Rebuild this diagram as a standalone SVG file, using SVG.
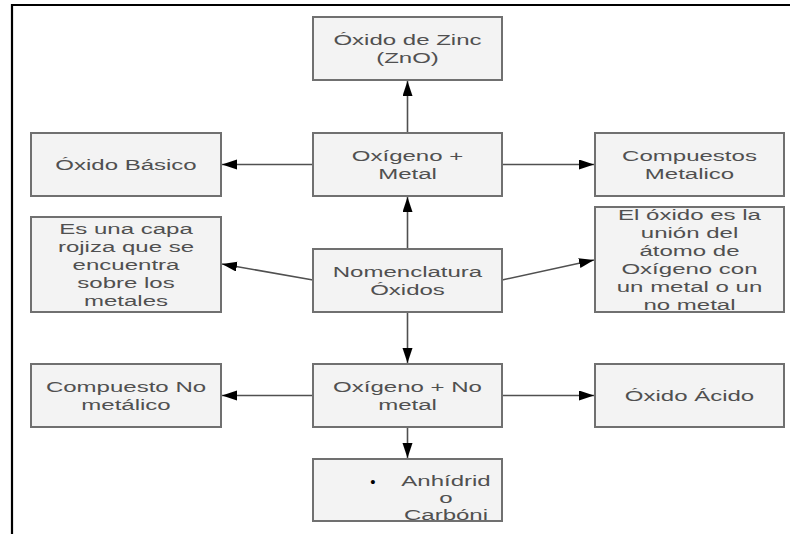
<svg xmlns="http://www.w3.org/2000/svg" width="790" height="534" viewBox="0 0 790 534">
  <style>
    .box { fill: #f3f3f3; stroke: #707070; stroke-width: 2; }
    .lbl { font-family: "Liberation Sans", Arial, sans-serif; font-size: 15.5px; fill: #505050; text-anchor: middle; }
    .edge { fill: none; stroke: #505050; stroke-width: 1.6; marker-end: url(#head); }
    .frame { fill: none; stroke: #000; stroke-width: 2.2; }
  </style>
  <defs>
    <marker id="head" markerUnits="userSpaceOnUse" markerWidth="16" markerHeight="12" refX="15" refY="5" orient="auto">
      <path d="M0,0 L15,5 L0,10 z" fill="#000"/>
    </marker>
    <clipPath id="clipUnion"><rect x="595" y="207" width="189" height="105"/></clipPath>
    <clipPath id="clipAnh"><rect x="313" y="459" width="189" height="62"/></clipPath>
  </defs>

  <rect width="790" height="534" fill="#fff"/>
  <!-- page frame -->
  <path class="frame" d="M12,534 L12,5 L790,5"/>

  <!-- connectors -->
  <g id="connectors">
    <path class="edge" d="M407.5,133 L407.5,81"/>
    <path class="edge" d="M313,164.5 L222,164.5"/>
    <path class="edge" d="M502,164.5 L594,164.5"/>
    <path class="edge" d="M407.5,249 L407.5,197"/>
    <path class="edge" d="M313,280 L222,264"/>
    <path class="edge" d="M502,280 L594,260"/>
    <path class="edge" d="M407.5,312 L407.5,363"/>
    <path class="edge" d="M313,395.5 L222,395.5"/>
    <path class="edge" d="M502,395.5 L594,395.5"/>
    <path class="edge" d="M407.5,427 L407.5,458"/>
  </g>

  <g id="zinc">
    <rect class="box" x="313" y="17" width="189" height="63"/>
    <g transform="translate(407.5,0) scale(1.55,1)">
      <text class="lbl" x="0" y="45">Óxido de Zinc</text>
      <text class="lbl" x="0" y="63">(ZnO)</text>
    </g>
  </g>

  <g id="oxido-basico">
    <rect class="box" x="31" y="133" width="190" height="63"/>
    <g transform="translate(126,0) scale(1.55,1)">
      <text class="lbl" x="0" y="170">Óxido Básico</text>
    </g>
  </g>

  <g id="oxigeno-metal">
    <rect class="box" x="313" y="133" width="189" height="63"/>
    <g transform="translate(407.5,0) scale(1.55,1)">
      <text class="lbl" x="0" y="161">Oxígeno +</text>
      <text class="lbl" x="0" y="179">Metal</text>
    </g>
  </g>

  <g id="compuestos-metalico">
    <rect class="box" x="595" y="133" width="189" height="63"/>
    <g transform="translate(689.5,0) scale(1.55,1)">
      <text class="lbl" x="0" y="161">Compuestos</text>
      <text class="lbl" x="0" y="179">Metalico</text>
    </g>
  </g>

  <g id="capa-rojiza">
    <rect class="box" x="31" y="217" width="190" height="95"/>
    <g transform="translate(126,0) scale(1.55,1)">
      <text class="lbl" x="0" y="234">Es una capa</text>
      <text class="lbl" x="0" y="252">rojiza que se</text>
      <text class="lbl" x="0" y="270">encuentra</text>
      <text class="lbl" x="0" y="288">sobre los</text>
      <text class="lbl" x="0" y="306">metales</text>
    </g>
  </g>

  <g id="nomenclatura">
    <rect class="box" x="313" y="249" width="189" height="63"/>
    <g transform="translate(407.5,0) scale(1.55,1)">
      <text class="lbl" x="0" y="277">Nomenclatura</text>
      <text class="lbl" x="0" y="295">Óxidos</text>
    </g>
  </g>

  <g id="definicion">
    <rect class="box" x="595" y="207" width="189" height="105"/>
    <g clip-path="url(#clipUnion)">
      <g transform="translate(689.5,0) scale(1.55,1)">
        <text class="lbl" x="0" y="220">El óxido es la</text>
        <text class="lbl" x="0" y="238">unión del</text>
        <text class="lbl" x="0" y="256">átomo de</text>
        <text class="lbl" x="0" y="274">Oxígeno con</text>
        <text class="lbl" x="0" y="292">un metal o un</text>
        <text class="lbl" x="0" y="310">no metal</text>
      </g>
    </g>
    <rect x="595" y="207" width="189" height="105" fill="none" stroke="#707070" stroke-width="2"/>
  </g>

  <g id="compuesto-no-metalico">
    <rect class="box" x="31" y="364" width="190" height="63"/>
    <g transform="translate(126,0) scale(1.55,1)">
      <text class="lbl" x="0" y="392">Compuesto No</text>
      <text class="lbl" x="0" y="410">metálico</text>
    </g>
  </g>

  <g id="oxigeno-no-metal">
    <rect class="box" x="313" y="364" width="189" height="63"/>
    <g transform="translate(407.5,0) scale(1.55,1)">
      <text class="lbl" x="0" y="392">Oxígeno + No</text>
      <text class="lbl" x="0" y="410">metal</text>
    </g>
  </g>

  <g id="oxido-acido">
    <rect class="box" x="595" y="364" width="189" height="63"/>
    <g transform="translate(689.5,0) scale(1.55,1)">
      <text class="lbl" x="0" y="401">Óxido Ácido</text>
    </g>
  </g>

  <g id="anhidrido">
    <rect class="box" x="313" y="459" width="189" height="62"/>
    <g clip-path="url(#clipAnh)">
      <text x="373" y="487" style="font-family:'Liberation Sans',Arial,sans-serif;font-size:15px;fill:#000;text-anchor:middle">•</text>
      <g transform="translate(446,0) scale(1.55,1)">
        <text class="lbl" x="0" y="486">Anhídrid</text>
        <text class="lbl" x="0" y="503">o</text>
        <text class="lbl" x="0" y="520">Carbóni</text>
      </g>
    </g>
    <rect x="313" y="459" width="189" height="62" fill="none" stroke="#707070" stroke-width="2"/>
  </g>
</svg>
